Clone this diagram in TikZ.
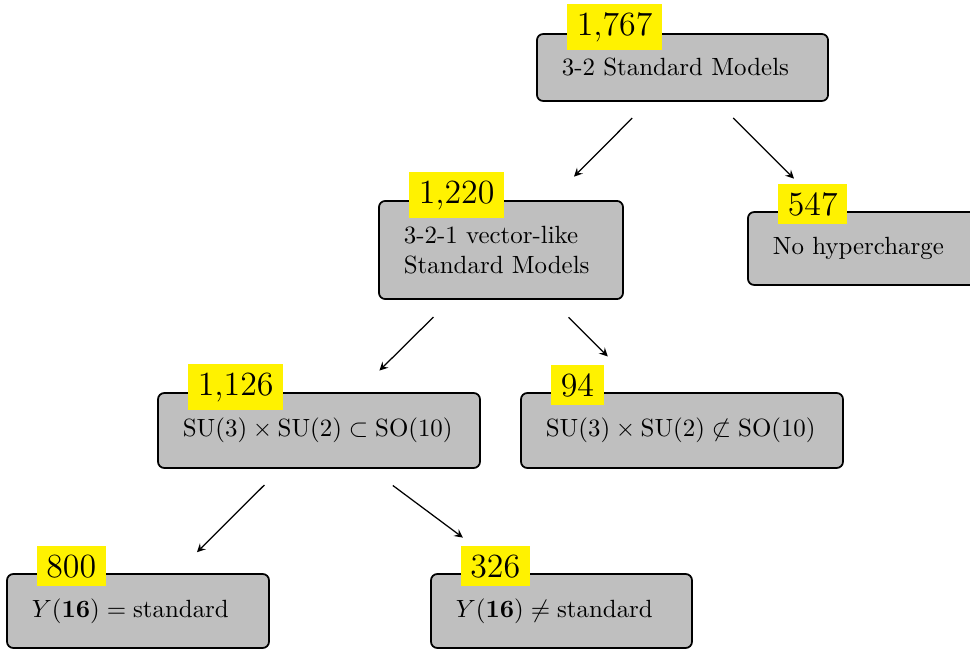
\documentclass[tikz,border=0pt]{standalone}
\usetikzlibrary{calc}
\tikzset{
	modelbox/.style = {draw, fill = lightgray, rounded corners = 2.5pt, line width = 0.7pt, inner xsep = 10pt, inner ysep = 0pt, align = left},
	countlabel/.style = {fill = yellow, inner xsep = 3.9pt, inner ysep = 3.3pt, font = \fontsize{13.6}{16}\selectfont, anchor = base west},
	flow/.style = {-stealth, line width = 0.5pt}
}
\begin{document}
\begin{tikzpicture}[x = 0.4016pt, y = -0.4016pt]
	\useasboundingbox (0, 0) rectangle (970, 649);
	%Boxes
		%top
		\node[modelbox, text width = 96.9pt, minimum height = 26.9pt] (sm) at (682.5, 67.5) {3-2 Standard Models};
		%second row
		\node[modelbox, text width = 78pt, minimum height = 39.4pt] (vl) at (501, 250) {3-2-1 vector-like\\Standard Models};
		\node[modelbox, text width = 73.2pt, minimum height = 29.3pt] (nohyp) at (864, 248.5) {No hypercharge};
		%third row
		\node[modelbox, text width = 109.3pt, minimum height = 30.1pt] (su) at (319, 430.5) {$\mathrm{SU}(3) \times \mathrm{SU}(2) \subset \mathrm{SO}(10)$};
		\node[modelbox, text width = 109.3pt, minimum height = 30.1pt] (nsu) at (682, 430.5) {$\mathrm{SU}(3) \times \mathrm{SU}(2) \not\subset \mathrm{SO}(10)$};
		%bottom row
		\node[modelbox, text width = 85.2pt, minimum height = 29.7pt] (ystd) at (138, 611) {$Y(\mathbf{16}) = \mbox{standard}$};
		\node[modelbox, text width = 84.8pt, minimum height = 29.7pt] (ynstd) at (561.5, 611) {$Y(\mathbf{16}) \neq \mbox{standard}$};
	%Counts
		\node[countlabel] (csm) at ($(sm.north west) + (30.5, 2)$) {1,767};
		\node[countlabel] (cvl) at ($(vl.north west) + (30.5, 3)$) {1,220};
		\node[countlabel] (cnohyp) at ($(nohyp.north west) + (30.5, 4)$) {547};
		\node[countlabel] (csu) at ($(su.north west) + (30.5, 3)$) {1,126};
		\node[countlabel] (cnsu) at ($(nsu.north west) + (30.5, 4)$) {94};
		\node[countlabel] (cystd) at ($(ystd.north west) + (30, 4)$) {800};
		\node[countlabel] (cynstd) at ($(ynstd.north west) + (30, 4)$) {326};
	%Arrows
		\draw[flow, shorten <= 9.2pt, shorten >= 13.3pt] (sm) -- (vl);
		\draw[flow, shorten <= 9.2pt, shorten >= 18.5pt] (sm) -- (nohyp);
		\draw[flow, shorten <= 9.8pt, shorten >= 12.3pt] (vl) -- (su);
		\draw[flow, shorten <= 9.9pt, shorten >= 20.3pt] (vl) -- (nsu);
		\draw[flow, shorten <= 9.2pt, shorten >= 11.9pt] (su) -- (ystd);
		\draw[flow, shorten <= 11.2pt, shorten >= 23.9pt] (su) -- (ynstd);
\end{tikzpicture}
\end{document}
